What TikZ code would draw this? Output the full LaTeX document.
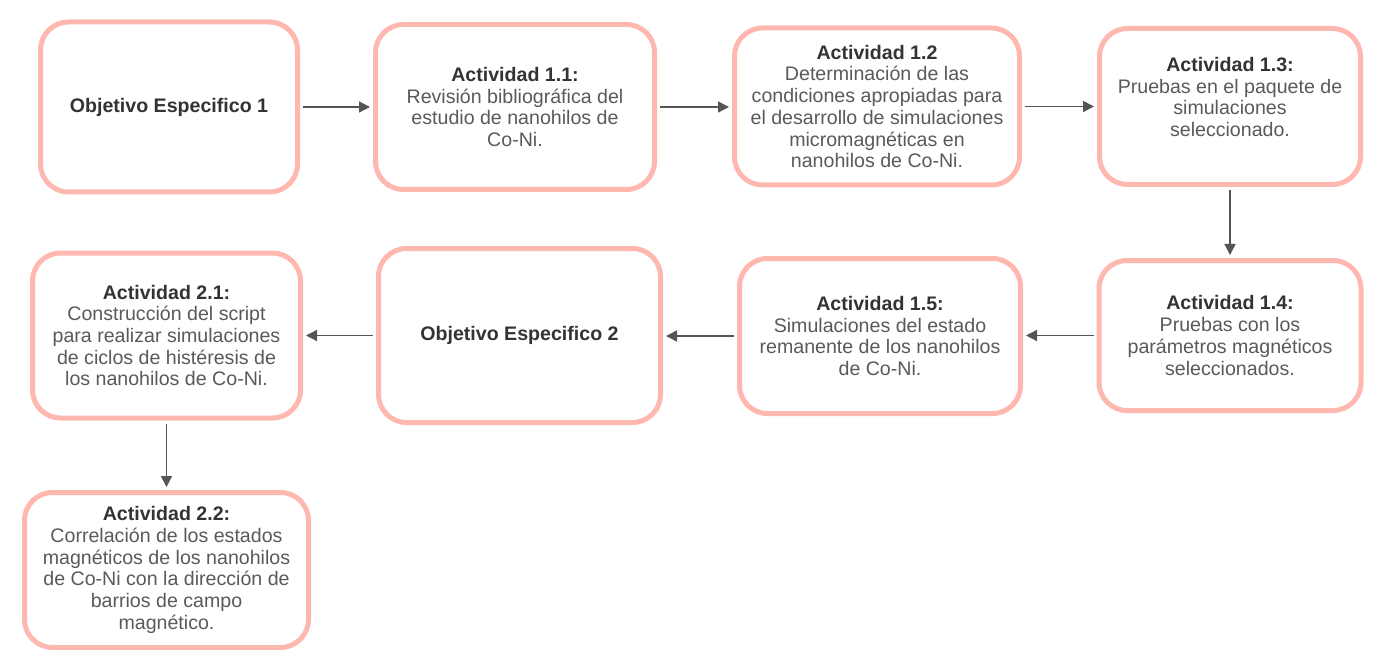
\documentclass[tikz,border=0pt]{standalone}
\usepackage{fontspec}
\setmainfont{Liberation Sans}
\usetikzlibrary{arrows.meta}
\definecolor{boxline}{RGB}{255,184,176}
\definecolor{boldtxt}{RGB}{51,51,51}
\definecolor{regtxt}{RGB}{90,90,90}
\definecolor{arrowc}{RGB}{85,85,85}
\tikzset{
  box/.style={draw=boxline, line width=5pt, rounded corners=28pt, fill=white,
    align=center, inner sep=0pt, text=regtxt,
    font=\fontsize{19.6}{21.7}\selectfont},
  conn/.style={draw=arrowc, line width=1.4pt,
    -{Triangle[length=11pt,width=11pt]}, shorten <=3pt, shorten >=3pt},
}
\newcommand{\hd}[1]{{\bfseries\color{boldtxt}#1}}
\begin{document}
\begin{tikzpicture}[x=1pt,y=-1pt]
\useasboundingbox (0,0) rectangle (1388,668);
\node[box, minimum width=257pt, minimum height=170pt] (obj1) at (169,107) {\hd{Objetivo Especifico 1}};
\node[box, minimum width=279pt, minimum height=165pt] (a11) at (515,107) {\hd{Actividad 1.1:}\\Revisión bibliográfica del\\estudio de nanohilos de\\Co-Ni.};
\node[box, minimum width=285pt, minimum height=157pt] (a12) at (877,106.5) {\hd{Actividad 1.2}\\Determinación de las\\condiciones apropiadas para\\el desarrollo de simulaciones\\micromagnéticas en\\nanohilos de Co-Ni.};
\node[box, minimum width=261pt, minimum height=156pt] (a13) at (1230,106.5) {};
\node[box, draw=none, fill=none, anchor=center] (a13t) at (1230,97) {\hd{Actividad 1.3:}\\Pruebas en el paquete de\\simulaciones\\seleccionado.};
\node[box, minimum width=262pt, minimum height=150pt] (a14) at (1230,335.5) {\hd{Actividad 1.4:}\\Pruebas con los\\parámetros magnéticos\\seleccionados.};
\node[box, minimum width=281pt, minimum height=155pt] (a15) at (880,336) {\hd{Actividad 1.5:}\\Simulaciones del estado\\remanente de los nanohilos\\de Co-Ni.};
\node[box, minimum width=282pt, minimum height=174pt] (obj2) at (519.5,335.5) {\hd{Objetivo Especifico 2}};
\node[box, minimum width=268pt, minimum height=165pt] (a21) at (166.5,335.5) {\hd{Actividad 2.1:}\\Construcción del script\\para realizar simulaciones\\de ciclos de histéresis de\\los nanohilos de Co-Ni.};
\node[box, minimum width=284pt, minimum height=155pt] (a22) at (166.5,570) {\hd{Actividad 2.2:}\\Correlación de los estados\\magnéticos de los nanohilos\\de Co-Ni con la dirección de\\barrios de campo\\magnético.};
\draw[conn] (obj1.east) -- (obj1.east -| a11.west);
\draw[conn] (a11.east) -- (a11.east -| a12.west);
\draw[conn] (a12.east) -- (a12.east -| a13.west);
\draw[conn] (a13.south) -- (a14.north);
\draw[conn] (a14.west) -- (a14.west -| a15.east);
\draw[conn] (a15.west) -- (a15.west -| obj2.east);
\draw[conn] (obj2.west) -- (obj2.west -| a21.east);
\draw[conn] (a21.south) -- (a22.north);
\end{tikzpicture}
\end{document}
